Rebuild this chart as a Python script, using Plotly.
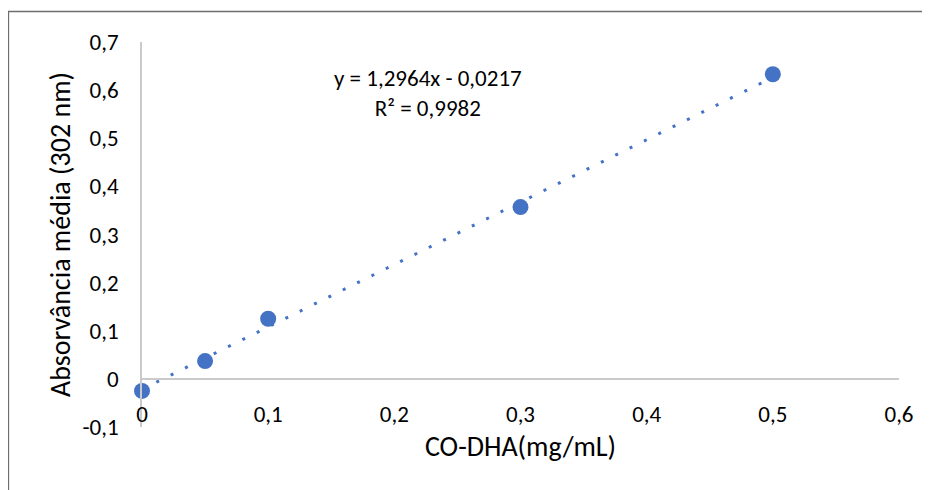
import plotly.graph_objects as go

# Data
conc = [0, 0.05, 0.1, 0.3, 0.5]                  # CO-DHA (mg/mL)
absorb = [-0.025, 0.037, 0.125, 0.357, 0.633]     # Absorvância média (302 nm)

# Linear trendline shown in the chart
slope = 1.2964
intercept = -0.0217
trend_x = [0, 0.5]

x_tickvals = [0, 0.1, 0.2, 0.3, 0.4, 0.5, 0.6]
x_ticktext = ["0", "0,1", "0,2", "0,3", "0,4", "0,5", "0,6"]
y_tickvals = [-0.1, 0, 0.1, 0.2, 0.3, 0.4, 0.5, 0.6, 0.7]
y_ticktext = ["-0,1", "0", "0,1", "0,2", "0,3", "0,4", "0,5", "0,6", "0,7"]

equation_text = "y = 1,2964x - 0,0217<br>R² = 0,9982"

FONT = "Carlito, Calibri, Lato, sans-serif"
FS = 23
BLUE = "#4472C4"
AXIS = "#CACACA"

trend_y = [slope * x + intercept for x in trend_x]

fig = go.Figure()
fig.add_trace(go.Scatter(
    x=trend_x, y=trend_y, mode="lines",
    line=dict(color=BLUE, width=3, dash="3px,13px"),
    hoverinfo="skip", showlegend=False, cliponaxis=False,
))
fig.add_trace(go.Scatter(
    x=conc, y=absorb, mode="markers",
    marker=dict(color=BLUE, size=16, line=dict(width=0)),
    showlegend=False, cliponaxis=False,
))

W, H = 930, 490
L, R, T, B = 134, 39, 34, 71
pw, ph = W - L - R, H - T - B

fig.update_layout(
    width=W, height=H,
    margin=dict(l=L, r=R, t=T, b=B),
    paper_bgcolor="white", plot_bgcolor="white",
    font=dict(family=FONT, size=FS, color="#000000"),
    xaxis=dict(
        range=[0, 0.6], tickvals=x_tickvals, ticktext=x_ticktext,
        anchor="free", position=0.125,
        showline=True, linecolor=AXIS, linewidth=1.5,
        showgrid=False, zeroline=False, ticks="",
        ticklabelstandoff=15,
        title=dict(text="CO-DHA(mg/mL)", standoff=8),
    ),
    yaxis=dict(
        range=[-0.1, 0.7], tickvals=y_tickvals, ticktext=y_ticktext,
        showline=True, linecolor=AXIS, linewidth=1.5,
        showgrid=False, zeroline=False, ticks="",
        ticklabelstandoff=17,
        title=dict(text="Absorvância média (302 nm)", standoff=4),
    ),
    annotations=[dict(
        text=equation_text, xref="paper", yref="paper",
        x=(420 - L) / pw, y=(H - B - 85) / ph,
        xanchor="center", yanchor="middle", showarrow=False,
        align="center", font=dict(family=FONT, size=FS, color="#000000"),
    )],
    shapes=[dict(
        type="rect", xref="paper", yref="paper",
        x0=(0.5 - L) / pw, x1=1.2,
        y0=-0.3, y1=(H - B - 3.5) / ph,
        line=dict(color="#6E6E6E", width=1.3), fillcolor="rgba(0,0,0,0)",
        layer="below",
    )],
)

fig.write_html("out.html")
